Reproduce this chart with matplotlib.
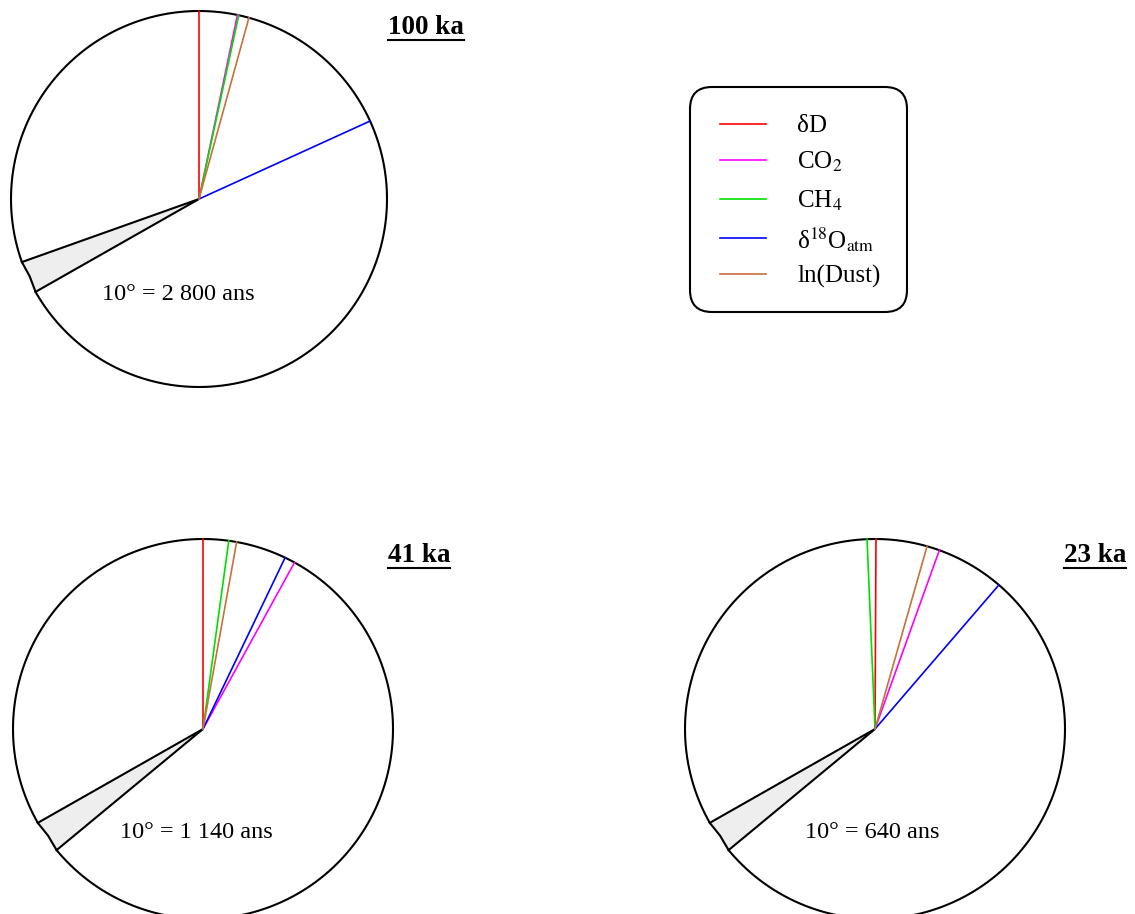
import numpy as np
import matplotlib
matplotlib.use("Agg")
import matplotlib.pyplot as plt
from matplotlib.patches import Polygon, FancyBboxPatch

plt.rcParams['font.family'] = ['Liberation Serif', 'DejaVu Serif']
plt.rcParams['mathtext.fontset'] = 'stix'

# ------------------------------------------------------
# Phase wheels: angle of each record (degrees, clockwise from north)
# ------------------------------------------------------
SERIES = ["δD", "CO$_2$", "CH$_4$", r"δ$^{18}$O$_{\rm atm}$", "ln(Dust)"]
COLORS = ["#ff0000", "#ff00ff", "#00e000", "#0000ff", "#c8703c"]

# 100 ka band
ang_100 = [0.0, 11.8, 12.2, 65.5, 15.4]
wedge_100 = (240.4, 250.4)
# 41 ka band
ang_41 = [0.0, 28.8, 7.8, 25.6, 10.2]
wedge_41 = (230.4, 240.4)
# 23 ka band
ang_23 = [0.3, 19.8, -2.4, 40.7, 15.9]
wedge_23 = (230.4, 240.4)

TITLES = ["100 ka", "41 ka", "23 ka"]
SCALES = ["10° = 2 800 ans", "10° = 1 140 ans", "10° = 640 ans"]

# layout in pixel units (centre x, centre y, radius, title x, label x, label y)
PANELS = [
    (199, 199, 188, 426, 178, 294),
    (203, 729, 190, 419, 196, 832),
    (875, 729, 190, 1095, 872, 832),
]


def pt(cx, cy, r, bearing):
    b = np.radians(bearing)
    return cx + r * np.sin(b), cy - r * np.cos(b)


def draw_wheel(ax, panel, angles, wedge, title, scale):
    cx, cy, r, tx, lx, ly = panel
    a1, a2 = wedge
    # circle outline without the wedge arc
    th = np.linspace(a2, a1 + 360, 400)
    xs, ys = pt(cx, cy, r, th)
    ax.plot(xs, ys, color="black", lw=1.5, zorder=3)

    # grey 10 degree sector
    p1 = pt(cx, cy, r, a1)
    pm = pt(cx, cy, r * 0.99, (a1 + a2) / 2)
    p2 = pt(cx, cy, r, a2)
    poly = Polygon([(cx, cy), p2, pm, p1], closed=True, facecolor="#eeeeee",
                   edgecolor="black", lw=1.5, joinstyle="miter", zorder=2)
    ax.add_patch(poly)

    for a, c in zip(angles, COLORS):
        ex, ey = pt(cx, cy, r, a)
        ax.plot([cx, ex], [cy, ey], color=c, lw=1.2, zorder=4)

    ax.text(lx, ly, scale, fontsize=17.5, ha="center", va="center")
    t = ax.text(tx, cy - r + 16, title, fontsize=19.5, fontweight="bold",
                ha="center", va="center")
    return t


fig = plt.figure(figsize=(11.35, 9.14), dpi=100)
ax = fig.add_axes([0, 0, 1, 1])
ax.set_xlim(0, 1135)
ax.set_ylim(914, 0)
ax.set_aspect("equal")
ax.axis("off")

titles = []
for panel, angs, wd, ttl, sc in zip(PANELS, [ang_100, ang_41, ang_23],
                                    [wedge_100, wedge_41, wedge_23], TITLES, SCALES):
    titles.append(draw_wheel(ax, panel, angs, wd, ttl, sc))

# legend box
box = FancyBboxPatch((690, 87), 217, 225, boxstyle="round,pad=0,rounding_size=22",
                     facecolor="white", edgecolor="black", lw=1.5, zorder=5)
ax.add_patch(box)
leg_y = [124, 160, 199, 238, 274]
for lab, c, y in zip(SERIES, COLORS, leg_y):
    ax.plot([720, 766], [y, y], color=c, lw=1.2, zorder=6)
    ax.text(797, y + 2, lab, fontsize=18, ha="left", va="center", zorder=6)

# underline the titles
fig.canvas.draw()
inv = ax.transData.inverted()
for t in titles:
    bb = t.get_window_extent()
    (x0, y0), (x1, y1) = inv.transform([(bb.x0, bb.y0), (bb.x1, bb.y1)])
    ax.plot([x0, x1], [y0, y0], color="black", lw=1.5)

fig.savefig("out.png", dpi=100)
